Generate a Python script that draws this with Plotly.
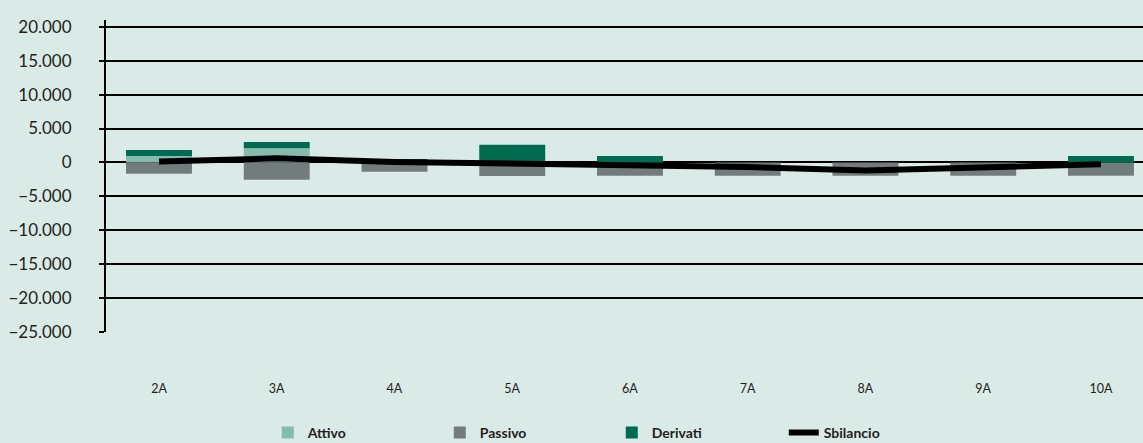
import plotly.graph_objects as go

categories = ["2A", "3A", "4A", "5A", "6A", "7A", "8A", "9A", "10A"]
attivo = [960, 2100, 100, 0, 0, 0, 0, 0, 0]
passivo = [-1650, -2540, -1360, -2000, -1950, -1950, -1950, -1950, -1950]
derivati = [890, 930, 400, 2590, 960, 0, 0, 0, 960]
sbilancio = [150, 600, 70, -120, -520, -670, -1180, -770, -270]

y_ticks = [20000, 15000, 10000, 5000, 0, -5000, -10000, -15000, -20000, -25000]
y_tick_text = ["20.000", "15.000", "10.000", "5.000", "0", "\u22125.000", "\u221210.000",
               "\u221215.000", "\u221220.000", "\u221225.000"]

BG = "#DAEAE6"
TXT = "#231F20"

fig = go.Figure()
fig.add_trace(go.Bar(x=categories, y=attivo, name="Attivo", marker_color="#84BBAD",
                     marker_line_width=0))
fig.add_trace(go.Bar(x=categories, y=passivo, name="Passivo", marker_color="#737C7C",
                     marker_line_width=0))
fig.add_trace(go.Bar(x=categories, y=derivati, name="Derivati", marker_color="#006B51",
                     marker_line_width=0))
fig.add_trace(go.Scatter(x=categories, y=sbilancio, name="Sbilancio", mode="lines",
                         line=dict(color="black", width=6)))

fig.update_layout(
    width=1143, height=443,
    margin=dict(l=106, r=0, t=20, b=111),
    paper_bgcolor=BG, plot_bgcolor=BG,
    barmode="relative", bargap=0.44,
    font=dict(family="Lato", color=TXT),
    showlegend=True,
    legend=dict(orientation="h", x=0.156, xanchor="left",
                yref="container", y=0.059, yanchor="top",
                entrywidth=127, entrywidthmode="pixels", traceorder="normal",
                font=dict(family="Lato", size=14, color=TXT, weight="bold"),
                bgcolor="rgba(0,0,0,0)"),
    xaxis=dict(type="category", range=[-0.45, 8.357], showgrid=False, zeroline=False,
               showline=False, ticks="", tickfont=dict(size=12.5, color=TXT),
               ticklabelstandoff=47, automargin=False),
    yaxis=dict(range=[-25000, 21000], tickvals=y_ticks, ticktext=y_tick_text,
               showgrid=True, gridcolor="black", gridwidth=1.5,
               zeroline=True, zerolinecolor="black", zerolinewidth=1.5,
               showline=True, linecolor="black", linewidth=2,
               ticks="outside", ticklen=5, tickcolor="black", tickwidth=1.5,
               tickfont=dict(size=17, color=TXT), ticklabelstandoff=24,
               automargin=False),
)

fig.write_html("out.html", config={"displayModeBar": False},
               post_script="document.body.style.margin='0';document.body.style.overflow='hidden';")
